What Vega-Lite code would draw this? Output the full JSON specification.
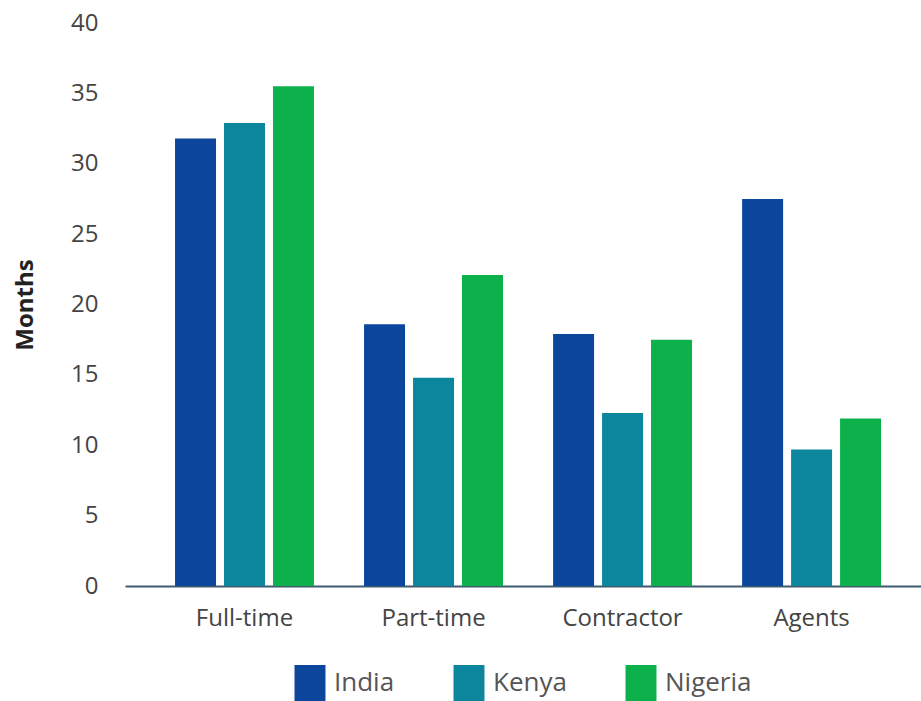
{
  "$schema": "https://vega.github.io/schema/vega-lite/v6.json",
  "width": 796,
  "height": 563,
  "autosize": {"type": "none"},
  "padding": {"left": 125, "top": 23, "right": 0, "bottom": 115},
  "background": "white",
  "config": {"view": {"stroke": null}, "font": "Open Sans"},
  "data": {
    "values": [
      {"category": "Full-time", "country": "India", "months": 31.8},
      {"category": "Full-time", "country": "Kenya", "months": 32.9},
      {"category": "Full-time", "country": "Nigeria", "months": 35.5},
      {"category": "Part-time", "country": "India", "months": 18.6},
      {"category": "Part-time", "country": "Kenya", "months": 14.8},
      {"category": "Part-time", "country": "Nigeria", "months": 22.1},
      {"category": "Contractor", "country": "India", "months": 17.9},
      {"category": "Contractor", "country": "Kenya", "months": 12.3},
      {"category": "Contractor", "country": "Nigeria", "months": 17.5},
      {"category": "Agents", "country": "India", "months": 27.5},
      {"category": "Agents", "country": "Kenya", "months": 9.7},
      {"category": "Agents", "country": "Nigeria", "months": 11.9}
    ]
  },
  "mark": {"type": "bar"},
  "encoding": {
    "x": {
      "field": "category",
      "type": "nominal",
      "sort": ["Full-time", "Part-time", "Contractor", "Agents"],
      "scale": {"paddingInner": 0.265, "paddingOuter": 0.238, "align": 0.556},
      "axis": {
        "title": null,
        "labelAngle": 0,
        "labelFontSize": 24,
        "labelColor": "#444444",
        "labelPadding": 20,
        "ticks": false,
        "domainColor": "#3f5b70",
        "domainWidth": 2
      }
    },
    "xOffset": {
      "field": "country",
      "type": "nominal",
      "scale": {"paddingInner": 0.163, "paddingOuter": 0}
    },
    "y": {
      "field": "months",
      "type": "quantitative",
      "scale": {"domain": [0, 40]},
      "axis": {
        "title": "Months",
        "titleFontSize": 24,
        "titleFontWeight": "bold",
        "titleColor": "#222222",
        "titlePadding": 33,
        "values": [0, 5, 10, 15, 20, 25, 30, 35, 40],
        "labelOverlap": false,
        "labelFontSize": 24,
        "labelColor": "#444444",
        "labelPadding": 27,
        "ticks": false,
        "domain": false,
        "grid": false
      }
    },
    "color": {
      "field": "country",
      "type": "nominal",
      "scale": {"domain": ["India", "Kenya", "Nigeria"], "range": ["#0b459c", "#0b869c", "#0cb14b"]},
      "legend": {
        "title": null,
        "orient": "none",
        "legendX": 167,
        "legendY": 642,
        "direction": "horizontal",
        "labelFontSize": 26,
        "labelColor": "#555555",
        "symbolType": "M-0.86,-1H0.86V1H-0.86Z",
        "symbolSize": 1296,
        "symbolStrokeWidth": 0,
        "symbolOpacity": 1,
        "columnPadding": 56,
        "labelOffset": 6
      }
    }
  }
}
